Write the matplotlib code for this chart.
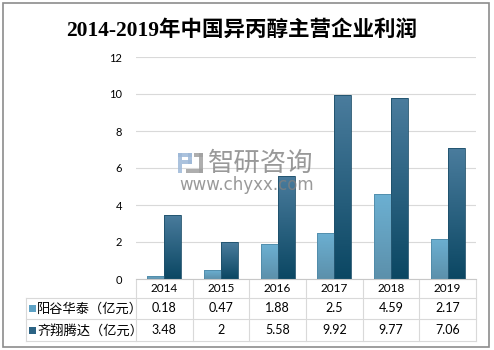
import numpy as np
import matplotlib
matplotlib.use("Agg")
import matplotlib.pyplot as plt
from matplotlib.patches import Rectangle
from matplotlib.colors import LinearSegmentedColormap

plt.rcParams['font.family'] = ['Lato', 'Noto Sans CJK SC', 'DejaVu Sans']

# data
years = ['2014', '2015', '2016', '2017', '2018', '2019']
series_names = ['阳谷华泰（亿元）', '齐翔腾达（亿元）']
yanggu = [0.18, 0.47, 1.88, 2.5, 4.59, 2.17]
qixiang = [3.48, 2, 5.58, 9.92, 9.77, 7.06]
yanggu_labels = ['0.18', '0.47', '1.88', '2.5', '4.59', '2.17']
qixiang_labels = ['3.48', '2', '5.58', '9.92', '9.77', '7.06']
yticks = [0, 2, 4, 6, 8, 10, 12]

W, H = 494, 350
fig = plt.figure(figsize=(W / 100, H / 100), dpi=100)

def px(x0, y0, w, h):
    # pixel box (top-left origin) -> figure fraction rect
    return (x0 / W, 1 - (y0 + h) / H), w / W, h / H

# outer border
fig.add_artist(Rectangle((3 / W, 3 / H), 486 / W, 344 / H, transform=fig.transFigure,
                         fill=False, edgecolor='#8c8c8c', linewidth=1.2))

fig.text(0.49, 1 - 31 / H, '2014-2019年中国异丙醇主营企业利润', ha='center', va='center',
         fontsize=15.5, fontweight='bold', family=['Liberation Serif', 'Noto Sans CJK SC'])

ax_l, ax_r = 136 / W, 476 / W
ax_b, ax_t = 1 - 279 / H, 1 - 57 / H
ax = fig.add_axes([ax_l, ax_b, ax_r - ax_l, ax_t - ax_b])

x = np.arange(len(years))
bw = 0.3
light = LinearSegmentedColormap.from_list('l', ['#5c90ab', '#6cb0d2'])
dark = LinearSegmentedColormap.from_list('d', ['#0b4763', '#4a7c9d'])
grad = np.linspace(0, 1, 100).reshape(-1, 1)
for vals, off, cmap, edge in [(yanggu, -bw / 2, light, '#4f8aa8'), (qixiang, bw / 2, dark, '#1d4f6a')]:
    bars = ax.bar(x + off, vals, bw, color='none', edgecolor=edge, linewidth=0.6, zorder=3)
    for b in bars:
        x0, y0 = b.get_x(), b.get_y()
        im = ax.imshow(grad, cmap=cmap, origin='lower', aspect='auto',
                       extent=[x0, x0 + b.get_width(), y0, y0 + b.get_height()], zorder=2)
        im.set_clip_path(b)

ax.set_xlim(-0.5, len(years) - 0.5)
ax.set_ylim(0, 12)
ax.set_yticks(yticks)
ax.set_yticklabels([str(t) for t in yticks], fontsize=8)
ax.tick_params(axis='y', length=0, pad=10)
ax.set_xticks([])
ax.grid(axis='y', color='#d9d9d9', linewidth=0.8, zorder=0)
for s in ['top', 'right', 'left']:
    ax.spines[s].set_visible(False)
ax.spines['bottom'].set_color('#c8c8c8')

# data table under the chart
cw = (ax_r - ax_l) / len(years)
tl = 26 / W
ys = [1 - 280 / H, 1 - 298 / H, 1 - 319 / H, 1 - 341 / H]
lc = '#d9d9d9'
for yy in ys[1:]:
    fig.add_artist(plt.Line2D([tl, ax_r], [yy, yy], color=lc, lw=0.8))
fig.add_artist(plt.Line2D([tl, tl], [ys[1], ys[3]], color=lc, lw=0.8))
for i in range(len(years) + 1):
    xx = ax_l + i * cw
    fig.add_artist(plt.Line2D([xx, xx], [ys[0], ys[3]], color=lc, lw=0.8))

for i, yr in enumerate(years):
    cx = ax_l + (i + 0.5) * cw
    fig.text(cx, (ys[0] + ys[1]) / 2, yr, ha='center', va='center', fontsize=8.5)
    fig.text(cx, (ys[1] + ys[2]) / 2, yanggu_labels[i], ha='center', va='center', fontsize=9)
    fig.text(cx, (ys[2] + ys[3]) / 2, qixiang_labels[i], ha='center', va='center', fontsize=9)

for r, (name, col) in enumerate(zip(series_names, ['#5fa3c6', '#2b6384'])):
    yc = (ys[r + 1] + ys[r + 2]) / 2
    fig.add_artist(Rectangle((29 / W, yc - 3.5 / H), 7 / W, 7 / H, transform=fig.transFigure,
                             facecolor=col, edgecolor='none'))
    fig.text(37 / W, yc, name, ha='left', va='center', fontsize=9.5)

# watermark: logo blocks + text
for (bx, by, bwid, bht, bc) in [(178, 153, 14, 4, '#9db8d8'), (178, 153, 4, 20, '#9db8d8'),
                                (188, 153, 4, 11, '#9db8d8'), (182, 160, 10, 4, '#9db8d8'),
                                (194, 153, 9, 4, '#a0a0a0'), (199, 153, 4, 20, '#a0a0a0'),
                                (186, 169, 17, 4, '#a0a0a0')]:
    xy, ww, hh = px(bx, by, bwid, bht)
    fig.add_artist(Rectangle(xy, ww, hh, transform=fig.transFigure,
                             facecolor=bc, edgecolor='none', alpha=0.85, zorder=5))
fig.text(261 / W, 1 - 163 / H, '智研咨询', ha='center', va='center', fontsize=19,
         color='#808080', alpha=0.8, zorder=5)
fig.text(247 / W, 1 - 185 / H, 'www.chyxx.com', ha='center', va='center', fontsize=12,
         color='#808080', alpha=0.8, family='DejaVu Sans', zorder=5)

fig.savefig('out.png', dpi=100)
